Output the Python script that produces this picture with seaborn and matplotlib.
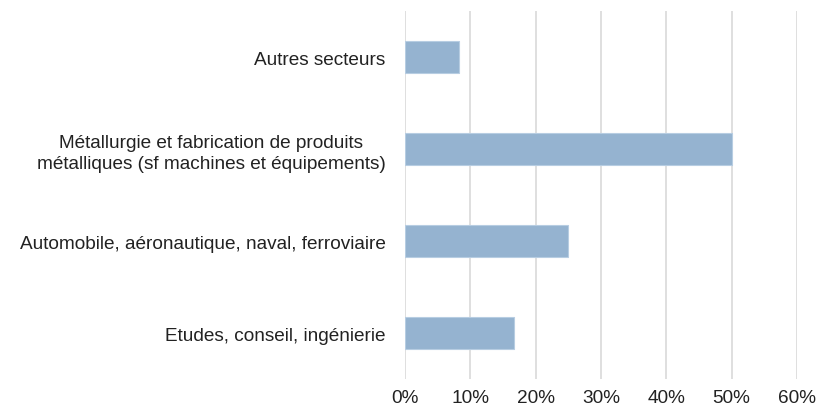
import matplotlib
matplotlib.use("Agg")
import matplotlib.pyplot as plt
import seaborn as sns
import pandas as pd
from matplotlib.ticker import PercentFormatter

categories = [
    "Autres secteurs",
    "Métallurgie et fabrication de produits\nmétalliques (sf machines et équipements)",
    "Automobile, aéronautique, naval, ferroviaire",
    "Etudes, conseil, ingénierie",
]
shares = [1 / 12, 6 / 12, 3 / 12, 2 / 12]
x_ticks = [0, 0.1, 0.2, 0.3, 0.4, 0.5, 0.6]

sns.set_theme(style="white")
plt.rcParams["font.family"] = ["Liberation Sans", "DejaVu Sans"]

df = pd.DataFrame({"secteur": categories, "part": shares})

fig = plt.figure(figsize=(8.19, 4.14), dpi=100)
ax = fig.add_axes([0.4945, 0.082, 0.4786, 0.889])

sns.barplot(data=df, y="secteur", x="part", orient="h", color="#95b3d0",
            width=0.35, edgecolor="#b7cde2", linewidth=0.8, saturation=1, ax=ax, zorder=3)

ax.set_xlim(0, 0.6)
ax.set_ylim(3.5, -0.5)
ax.set_xticks(x_ticks)
ax.xaxis.set_major_formatter(PercentFormatter(1.0, decimals=0))
ax.grid(axis="x", color="#d9d9d9", linewidth=1.2, zorder=0)
ax.grid(axis="y", visible=False)
for s in ax.spines.values():
    s.set_visible(False)
ax.tick_params(axis="both", length=0, labelsize=13.7, colors="#222222")
ax.tick_params(axis="y", pad=14)
ax.tick_params(axis="x", pad=7)
for lbl in ax.get_yticklabels():
    lbl.set_multialignment("center")
    lbl.set_linespacing(1.3)
ax.set_xlabel("")
ax.set_ylabel("")

fig.savefig("out.png", dpi=100, facecolor="white")
